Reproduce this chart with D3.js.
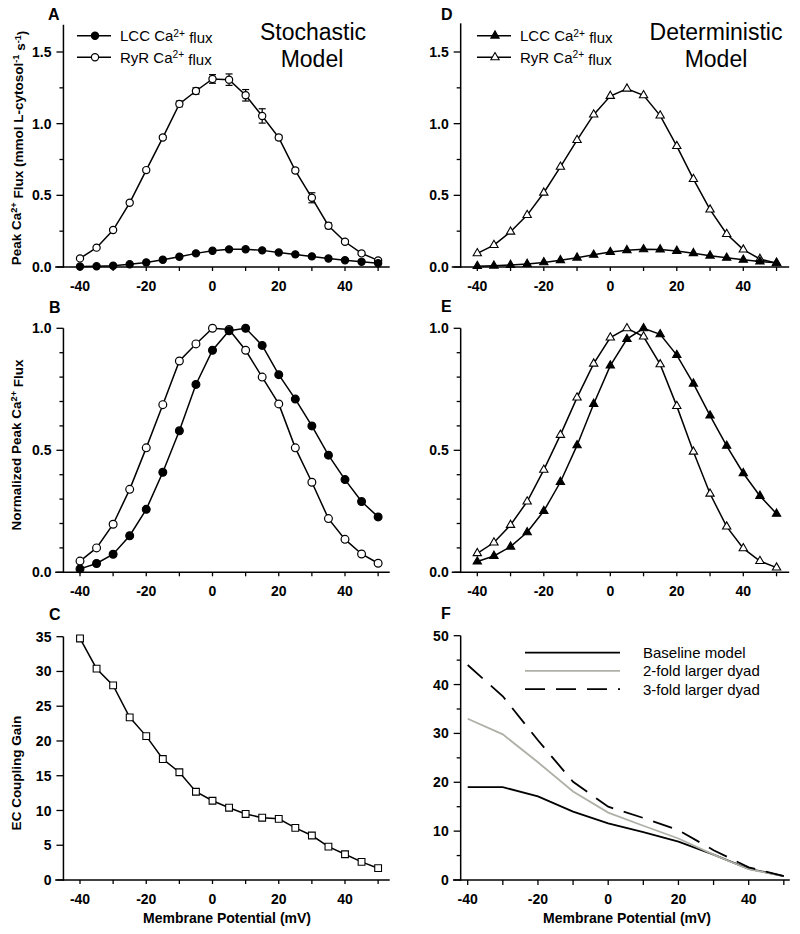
<!DOCTYPE html>
<html><head><meta charset="utf-8">
<script src="https://cdnjs.cloudflare.com/ajax/libs/d3/7.8.5/d3.min.js"></script>
<style>body{margin:0;background:#fff} text{font-family:Arial,"Liberation Sans",sans-serif;fill:#000}</style>
</head><body><svg id="c" width="800" height="934"></svg>
<script>
// ---------- data ----------
const voltages = [-40,-35,-30,-25,-20,-15,-10,-5,0,5,10,15,20,25,30,35,40,45,50];
const stochLCC = [0.003,0.005,0.009,0.019,0.032,0.051,0.072,0.095,0.113,0.123,0.124,0.116,0.101,0.088,0.074,0.059,0.047,0.036,0.026];
const stochRyR = [0.06,0.135,0.258,0.448,0.676,0.903,1.138,1.228,1.312,1.307,1.198,1.054,0.903,0.673,0.483,0.288,0.176,0.095,0.046];
const stochRyRErr = [0.005,0.006,0.008,0.01,0.012,0.012,0.02,0.022,0.03,0.04,0.04,0.05,0.015,0.015,0.035,0.02,0.01,0.008,0.005];
const stochLCCNorm = [0.014,0.036,0.074,0.15,0.258,0.41,0.58,0.77,0.91,0.99,1.0,0.93,0.81,0.71,0.6,0.48,0.38,0.29,0.227];
const stochRyRNorm = [0.046,0.1,0.197,0.34,0.51,0.687,0.866,0.936,1.0,0.995,0.91,0.80,0.69,0.51,0.369,0.22,0.135,0.075,0.037];
const stochGain = [34.75,30.4,28.0,23.4,20.7,17.4,15.5,12.7,11.4,10.4,9.5,8.96,8.8,7.5,6.4,4.8,3.7,2.6,1.7];
const detLCC = [0.006,0.009,0.014,0.021,0.032,0.047,0.065,0.085,0.104,0.117,0.123,0.122,0.112,0.096,0.079,0.064,0.05,0.038,0.029];
const detRyR = [0.095,0.153,0.246,0.362,0.518,0.699,0.885,1.063,1.193,1.244,1.198,1.056,0.843,0.613,0.4,0.23,0.121,0.056,0.026];
const detLCCNorm = [0.044,0.067,0.105,0.164,0.251,0.37,0.52,0.69,0.847,0.956,1.0,0.975,0.89,0.773,0.642,0.518,0.406,0.313,0.24];
const detRyRNorm = [0.078,0.122,0.194,0.29,0.42,0.563,0.716,0.855,0.962,1.0,0.966,0.852,0.681,0.494,0.322,0.187,0.098,0.046,0.019];
const gainV = [-40,-30,-20,-10,0,10,20,30,40,50];
const gainBaseline = [19,19,17.1,14,11.6,9.8,7.85,5.2,2.3,0.8];
const gain2fold = [33,29.8,24.1,18.1,13.8,11.1,8.5,5.2,2.2,0.8];
const gain3fold = [44,37.6,28.6,20.1,15,12.7,10.2,6.1,2.6,0.8];
const xMajorTicks = [-40,-20,0,20,40];
const xMinorTicks = [-30,-10,10,30,50];
const fluxTicks = [0,0.5,1.0,1.5];
const fluxMinor = [0.25,0.75,1.25];
const normTicks = [0,0.5,1.0];
const normMinor = [0.1,0.2,0.3,0.4,0.6,0.7,0.8,0.9];
const gainCTicks = [0,5,10,15,20,25,30,35];
const gainFTicks = [0,10,20,30,40,50];
const gainFMinor = [5,15,25,35,45];
const legendFlux = ["LCC Ca", "RyR Ca"];
const legendF = ["Baseline model","2-fold larger dyad","3-fold larger dyad"];

// ---------- drawing ----------
const svg = d3.select("#c");
const fmt1 = d3.format(".1f");

function makePanel(o){
  const g = svg.append("g");
  const x = d3.scaleLinear().domain([-40,40]).range(o.xr);
  const y = d3.scaleLinear().domain([0,o.yv]).range(o.yr);
  const yAxisX = x(o.yAxisAt);
  const xa = g.append("g").attr("transform",`translate(0,${y(0)})`);
  xa.append("line").attr("x1",x(o.xExt[0])).attr("x2",x(o.xExt[1])).attr("stroke","#000").attr("stroke-width",1.5);
  xa.selectAll("line.t").data(xMajorTicks.concat(xMinorTicks)).join("line").attr("class","t")
    .attr("x1",d=>x(d)).attr("x2",d=>x(d)).attr("y1",0).attr("y2",o.xTick).attr("stroke","#000").attr("stroke-width",1.3);
  xa.selectAll("text").data(xMajorTicks).join("text").attr("x",d=>x(d)).attr("y",24)
    .attr("text-anchor","middle").attr("font-weight","bold").attr("font-size",14).text(d=>d);
  const ya = g.append("g").attr("transform",`translate(${yAxisX},0)`);
  ya.append("line").attr("y1",y(0)+0.75).attr("y2",y(o.yTop)).attr("stroke","#000").attr("stroke-width",1.5);
  ya.selectAll("line.mj").data(o.yTicks).join("line").attr("class","mj")
    .attr("x1",-7).attr("x2",0).attr("y1",d=>y(d)).attr("y2",d=>y(d)).attr("stroke","#000").attr("stroke-width",1.3);
  ya.selectAll("line.mn").data(o.yMinor||[]).join("line").attr("class","mn")
    .attr("x1",-4).attr("x2",0).attr("y1",d=>y(d)).attr("y2",d=>y(d)).attr("stroke","#000").attr("stroke-width",1.3);
  ya.selectAll("text").data(o.yTicks).join("text").attr("x",-12).attr("y",d=>y(d)).attr("dy","0.36em")
    .attr("text-anchor","end").attr("font-weight","bold").attr("font-size",14).text(o.yFmt);
  return {g,x,y};
}

function series(p, xs, ys, marker, fill, r){
  const line = d3.line().x((d,i)=>p.x(xs[i])).y(d=>p.y(d));
  p.g.append("path").attr("d",line(ys)).attr("fill","none").attr("stroke","#000").attr("stroke-width",1.5);
  const m = p.g.append("g");
  ys.forEach((v,i)=>{
    if(marker==="circle"){
      m.append("circle").attr("cx",p.x(xs[i])).attr("cy",p.y(v)).attr("r",r)
        .attr("fill",fill).attr("stroke","#000").attr("stroke-width",1.2);
    } else {
      const sym = marker==="triangle"?d3.symbolTriangle:d3.symbolSquare;
      m.append("path").attr("d",d3.symbol().type(sym).size(r)())
        .attr("transform",`translate(${p.x(xs[i])},${p.y(v)})`)
        .attr("fill",fill).attr("stroke","#000").attr("stroke-width",1.1);
    }
  });
}

function supText(sel, parts){
  parts.forEach((t,i)=>{
    if(i%2===0) sel.append("tspan").attr("dy", i===0?0:"0.42em").text(t);
    else sel.append("tspan").attr("dy","-0.42em").attr("font-size","0.68em").text(t);
  });
}

function letter(t,x,y){ svg.append("text").attr("x",x).attr("y",y).attr("font-weight","bold").attr("font-size",16).text(t); }

function yLabel(parts, cx, cy){
  const t = svg.append("text").attr("transform",`translate(${cx},${cy}) rotate(-90)`)
    .attr("text-anchor","middle").attr("font-weight","bold").attr("font-size",13.5);
  supText(t, parts);
}

const leftX = [80,345], rightX = [477.3,743.3];
const fluxY = [267,52], normY = [572.3,328.3];

// Panel A
const pA = makePanel({xr:leftX, yv:1.5, yr:fluxY, yTop:1.69, yAxisAt:-45, xExt:[-47.5,53.5], xTick:4,
  yTicks:fluxTicks, yMinor:fluxMinor, yFmt:fmt1});
stochRyR.forEach((v,i)=>{
  const xx = pA.x(voltages[i]), y1 = pA.y(v-stochRyRErr[i]), y2 = pA.y(v+stochRyRErr[i]);
  pA.g.append("line").attr("x1",xx).attr("x2",xx).attr("y1",y1).attr("y2",y2).attr("stroke","#000").attr("stroke-width",1.2);
  [y1,y2].forEach(yy=>pA.g.append("line").attr("x1",xx-3.5).attr("x2",xx+3.5).attr("y1",yy).attr("y2",yy).attr("stroke","#000").attr("stroke-width",1.2));
});
series(pA, voltages, stochRyR, "circle", "#fff", 3.6);
series(pA, voltages, stochLCC, "circle", "#000", 3.6);

// Panel B
const pB = makePanel({xr:leftX, yv:1, yr:normY, yTop:1.0, yAxisAt:-45, xExt:[-47.5,53.5], xTick:4,
  yTicks:normTicks, yMinor:normMinor, yFmt:fmt1});
series(pB, voltages, stochRyRNorm, "circle", "#fff", 3.9);
series(pB, voltages, stochLCCNorm, "circle", "#000", 3.9);

// Panel C
const pC = makePanel({xr:leftX, yv:35, yr:[880,636.7], yTop:35, yAxisAt:-45, xExt:[-47.5,53.5], xTick:4,
  yTicks:gainCTicks, yMinor:[], yFmt:d=>d});
series(pC, voltages, stochGain, "square", "#fff", 46);

// Panel D
const pD = makePanel({xr:rightX, yv:1.5, yr:fluxY, yTop:1.7, yAxisAt:-45, xExt:[-47.7,53.8], xTick:4,
  yTicks:fluxTicks, yMinor:fluxMinor, yFmt:fmt1});
series(pD, voltages, detRyR, "triangle", "#fff", 30);
series(pD, voltages, detLCC, "triangle", "#000", 30);

// Panel E
const pE = makePanel({xr:rightX, yv:1, yr:normY, yTop:1.0, yAxisAt:-45, xExt:[-47.7,53.8], xTick:4,
  yTicks:normTicks, yMinor:normMinor, yFmt:fmt1});
series(pE, voltages, detRyRNorm, "triangle", "#fff", 30);
series(pE, voltages, detLCCNorm, "triangle", "#000", 30);

// Panel F
const pF = makePanel({xr:[467.7,748.7], yv:50, yr:[880,635.7], yTop:50, yAxisAt:-42, xExt:[-44.2,51.7], xTick:5,
  yTicks:gainFTicks, yMinor:gainFMinor, yFmt:d=>d});
const fLine = d3.line().x((d,i)=>pF.x(gainV[i])).y(d=>pF.y(d));
const fStyles = [{c:"#000",d:null,w:1.8},{c:"#b0b0a8",d:null,w:1.8},{c:"#000",d:"20,11",w:1.8}];
[gainBaseline,gain2fold,gain3fold].forEach((s,i)=>{
  pF.g.append("path").attr("d",fLine(s)).attr("fill","none").attr("stroke",fStyles[i].c)
    .attr("stroke-width",fStyles[i].w).attr("stroke-dasharray",fStyles[i].d);
});
legendF.forEach((t,i)=>{
  const yy = 652.7 + i*18.2;
  svg.append("line").attr("x1",525).attr("x2",620).attr("y1",yy).attr("y2",yy).attr("stroke",fStyles[i].c)
    .attr("stroke-width",fStyles[i].w).attr("stroke-dasharray",fStyles[i].d);
  svg.append("text").attr("x",643).attr("y",yy+5.5).attr("font-size",15).text(t);
});

function fluxLegend(x0, marker){
  legendFlux.forEach((t,i)=>{
    const yy = 35.7 + i*21.6;
    svg.append("line").attr("x1",x0).attr("x2",x0+34).attr("y1",yy).attr("y2",yy).attr("stroke","#000").attr("stroke-width",1.5);
    const fill = i===0?"#000":"#fff";
    if(marker==="circle") svg.append("circle").attr("cx",x0+18).attr("cy",yy).attr("r",3.6).attr("fill",fill).attr("stroke","#000").attr("stroke-width",1.2);
    else svg.append("path").attr("d",d3.symbol().type(d3.symbolTriangle).size(30)()).attr("transform",`translate(${x0+18},${yy})`).attr("fill",fill).attr("stroke","#000").attr("stroke-width",1.1);
    const tx = svg.append("text").attr("x",x0+43).attr("y",yy+5.3).attr("font-size",15);
    supText(tx,[t,"2+"," flux"]);
  });
}
fluxLegend(77,"circle");
fluxLegend(477,"triangle");

[["Stochastic",313,40],["Model",312,67],["Deterministic",716,40],["Model",716,67]].forEach(d=>
  svg.append("text").attr("x",d[1]).attr("y",d[2]).attr("text-anchor","middle").attr("font-size",23).text(d[0]));

letter("A",48,20); letter("B",49,313); letter("C",49,620);
letter("D",441,20); letter("E",441,312); letter("F",441,619);

yLabel(["Peak Ca","2+"," Flux (mmol L-cytosol","-1"," s","-1",")"], 21, 148);
yLabel(["Normalized Peak Ca","2+"," Flux"], 21, 445);
yLabel(["EC Coupling Gain"], 21, 773);
svg.append("text").attr("x",227).attr("y",923).attr("text-anchor","middle").attr("font-weight","bold").attr("font-size",14).text("Membrane Potential (mV)");
svg.append("text").attr("x",627).attr("y",923).attr("text-anchor","middle").attr("font-weight","bold").attr("font-size",14).text("Membrane Potential (mV)");
</script></body></html>
